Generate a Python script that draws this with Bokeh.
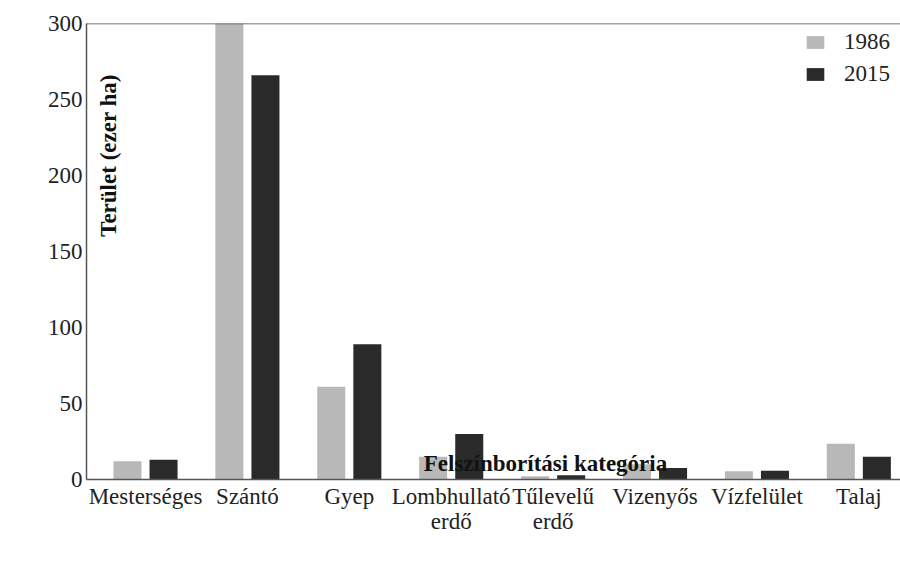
import math
from bokeh.plotting import figure
from bokeh.models import ColumnDataSource, Range1d, FixedTicker, Span, Legend, LegendItem, Label
from bokeh.transform import dodge
from bokeh.embed import file_html
from bokeh.resources import INLINE

categories = ["Mesterséges", "Szántó", "Gyep", "Lombhullató\nerdő", "Tűlevelű\nerdő",
              "Vizenyős", "Vízfelület", "Talaj"]
values_1986 = [12, 300, 61, 15, 2.2, 10, 5.5, 23.5]
values_2015 = [13, 266, 89, 30, 2.8, 7.5, 5.7, 15]
series_names = ["1986", "2015"]
y_ticks = [0, 50, 100, 150, 200, 250, 300]
x_title = "Felszínborítási kategória"
y_title = "Terület (ezer ha)"

FONT = "Times"
xs = list(range(len(categories)))
src = ColumnDataSource(dict(x=xs, v1986=values_1986, v2015=values_2015))

p = figure(width=900, height=569, output_backend="svg", toolbar_location=None,
           x_range=Range1d(-0.579, 7.409), y_range=Range1d(0, 300),
           min_border_left=86, min_border_top=23, min_border_right=0, min_border_bottom=90)
p.outline_line_color = None
p.xgrid.grid_line_color = None
p.ygrid.grid_line_color = None
p.background_fill_color = "white"
p.border_fill_color = "white"

r1 = p.vbar(x=dodge("x", -0.177, range=p.x_range), top="v1986", width=0.275, bottom=0,
            source=src, fill_color="#b8b8b8", line_color=None)
r2 = p.vbar(x=dodge("x", 0.177, range=p.x_range), top="v2015", width=0.275, bottom=0,
            source=src, fill_color="#2a2a2a", line_color=None)

p.add_layout(Span(location=300, dimension="width", line_color="#444444", line_width=1.5))

p.xaxis.ticker = FixedTicker(ticks=xs)
p.xaxis.major_label_overrides = {i: c for i, c in enumerate(categories)}
p.yaxis.ticker = FixedTicker(ticks=y_ticks)

for ax in (p.xaxis[0], p.yaxis[0]):
    ax.axis_line_color = "#555555"
    ax.axis_line_width = 1.5
    ax.major_tick_out = 0
    ax.major_tick_in = 0
    ax.minor_tick_out = 0
    ax.minor_tick_in = 0
    ax.major_label_text_font = FONT
    ax.major_label_text_font_size = "23px"
    ax.major_label_text_color = "#222222"

p.xaxis.major_label_standoff = 4
p.xaxis.major_label_text_line_height = 1.0
p.yaxis.major_label_standoff = 4

# axis titles as screen-positioned labels (canvas coordinates from bottom-left)
xt = Label(x=459, x_units="screen", y=16, y_units="screen", text=x_title,
           text_font=FONT, text_font_size="23px", text_font_style="bold",
           text_color="#111111", text_align="center", text_baseline="middle")
yt = Label(x=22, x_units="screen", y=324, y_units="screen", text=y_title, angle=math.pi / 2,
           text_font=FONT, text_font_size="23px", text_font_style="bold",
           text_color="#111111", text_align="center", text_baseline="middle")
p.add_layout(xt)
p.add_layout(yt)

legend = Legend(items=[LegendItem(label=series_names[0], renderers=[r1]),
                       LegendItem(label=series_names[1], renderers=[r2])],
                location="top_right")
legend.border_line_color = None
legend.background_fill_alpha = 0
legend.label_text_font = FONT
legend.label_text_font_size = "23px"
legend.label_text_color = "#222222"
legend.glyph_width = 22
legend.glyph_height = 16
legend.label_standoff = 18
legend.label_height = 24
legend.label_width = 50
legend.spacing = 6
legend.padding = 6
legend.margin = 6
p.add_layout(legend)

open("out.html", "w").write(file_html(p, INLINE))
